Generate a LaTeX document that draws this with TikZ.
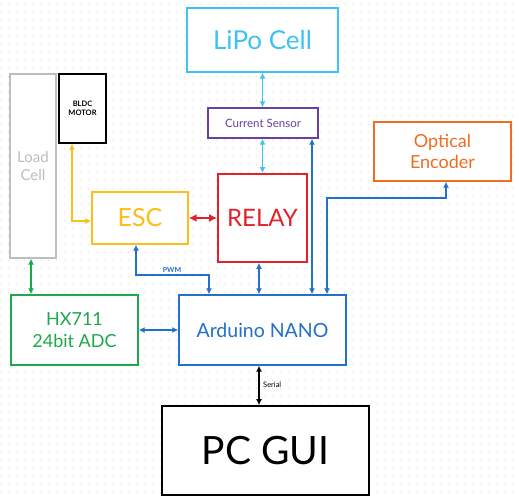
\documentclass[tikz,border=0pt]{standalone}
\usepackage{fontspec}
\setmainfont{Lato}
\usetikzlibrary{arrows.meta,calc}
\definecolor{cLipo}{HTML}{3CC3F2}
\definecolor{cCur}{HTML}{6A3FA0}
\definecolor{cLoad}{HTML}{BDBDBD}
\definecolor{cEsc}{HTML}{FDBE1A}
\definecolor{cRelay}{HTML}{E3212B}
\definecolor{cEnc}{HTML}{F26B21}
\definecolor{cArd}{HTML}{2370C8}
\definecolor{cHx}{HTML}{1EA84E}
\definecolor{cGrid}{HTML}{DADADA}
\tikzset{
  blk/.style={draw, line width=1.4pt, inner sep=0pt, align=center, fill=white},
  conn/.style={line width=1.3pt, {Latex[length=6pt,width=6pt]}-{Latex[length=6pt,width=6pt]}},
  fs/.style={font=\fontsize{#1pt}{\dimexpr #1pt*12/10\relax}\selectfont}
}
\begin{document}
\begin{tikzpicture}[x=1pt,y=-1pt]
\useasboundingbox (0,0) rectangle (519,500);
\fill[white] (0,0) rectangle (519,500);
% dotted grid
\foreach \yy in {4,12,...,500}{
  \draw[cGrid, line width=0.9pt, dash pattern=on 0.9pt off 7.1pt] (0,\yy) -- (519,\yy);
}
% blocks
\node[blk, draw=cLipo, text=cLipo, minimum width=151pt, minimum height=64pt, fs=26] (lipo) at (262.5,40) {LiPo Cell};
\node[blk, draw=cCur, text=cCur, minimum width=110pt, minimum height=30pt, fs=11.5] (cs) at (263,123) {Current Sensor};
\node[blk, draw=cLoad, text=cLoad, minimum width=46pt, minimum height=184pt, fs=15] (load) at (33,166) {Load\\Cell};
\node[blk, draw=black, text=black, minimum width=47pt, minimum height=69pt, fs=7.5] (bldc) at (82.5,108.5) {\bfseries BLDC\\\bfseries MOTOR};
\node[blk, draw=cEsc, text=cEsc, minimum width=96pt, minimum height=52pt, fs=25] (esc) at (140,218) {ESC};
\node[blk, draw=cRelay, text=cRelay, line width=1.7pt, minimum width=89pt, minimum height=88pt, fs=24] (relay) at (262.5,218) {RELAY};
\node[blk, draw=cEnc, text=cEnc, minimum width=137pt, minimum height=59pt, fs=18] (enc) at (442.5,151.5) {Optical\\Encoder};
\node[blk, draw=cHx, text=cHx, minimum width=127pt, minimum height=70pt, fs=18] (hx) at (74.5,330) {HX711\\24bit ADC};
\node[blk, draw=cArd, text=cArd, minimum width=167pt, minimum height=70pt, fs=19.5] (ard) at (262.5,330) {Arduino NANO};
\node[blk, draw=black, text=black, line width=1.7pt, minimum width=207pt, minimum height=89pt, fs=39] (pc) at (265.5,450.5) {PC GUI};
% helper coordinates
\coordinate (xcs) at (312,0);
\coordinate (xbldc) at (72,0);
\coordinate (xload) at (31,0);
\coordinate (xpwm) at (136,0);
\coordinate (pwmturn) at (209,275);
\coordinate (xrel) at (259,0);
\coordinate (xenc) at (446,0);
\coordinate (encturn) at (327,198);
\coordinate (bldcturn) at (72,221);
% connectors
\draw[conn, cLipo] (lipo.south) -- (cs.north -| lipo.south);
\draw[conn, cLipo] (cs.south -| lipo.south) -- (relay.north -| lipo.south);
\draw[conn, cArd] (cs.south -| xcs) -- (ard.north -| xcs);
\draw[conn, cEsc] (bldc.south -| xbldc) -- (bldcturn) -- (bldcturn -| esc.west);
\draw[line width=1.7pt, cRelay, {Latex[length=8pt,width=8pt]}-{Latex[length=8pt,width=8pt]}] (esc.east) -- (relay.west);
\draw[conn, cHx] (load.south -| xload) -- (hx.north -| xload);
\draw[conn, cArd] (esc.south -| xpwm) |- (pwmturn) -- (ard.north -| pwmturn);
\node[text=cArd, fs=7, anchor=south, inner sep=1pt] (pwm) at (172,274) {\bfseries PWM};
\draw[conn, cArd] (relay.south -| xrel) -- (ard.north -| xrel);
\draw[conn, cArd] (enc.south -| xenc) |- (encturn) -- (ard.north -| encturn);
\draw[conn, cArd] (hx.east) -- (ard.west);
\draw[conn, black] (ard.south -| xrel) -- (pc.north -| xrel);
\node[text=black, fs=7.5, anchor=west, inner sep=1pt] (serial) at (262,385) {Serial};
\end{tikzpicture}
\end{document}
